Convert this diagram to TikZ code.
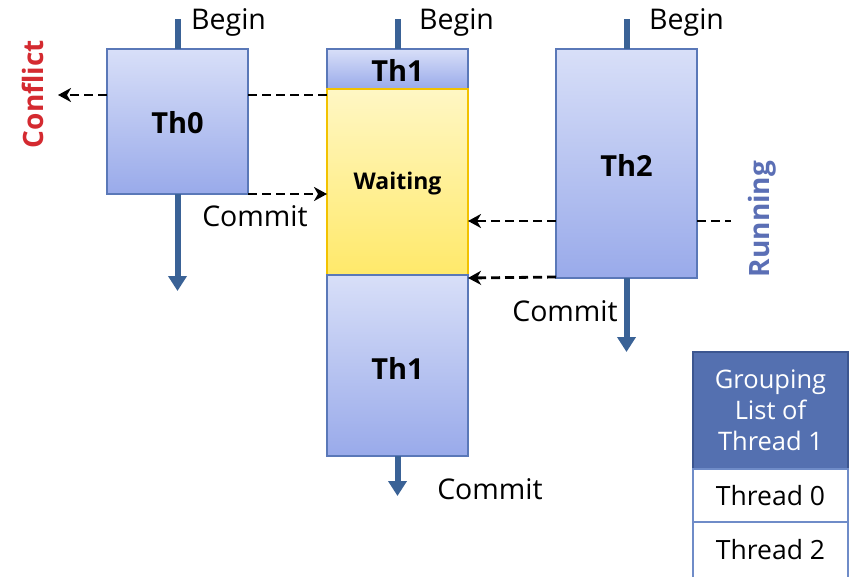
\documentclass[tikz,border=0pt]{standalone}
\usepackage{fontspec}
\setmainfont{Open Sans}
\usetikzlibrary{arrows.meta}
\definecolor{boxtop}{HTML}{D8DFF8}
\definecolor{boxbot}{HTML}{99AAEA}
\definecolor{boxedge}{HTML}{5A78B8}
\definecolor{waittop}{HTML}{FFF7C4}
\definecolor{waitbot}{HTML}{FFE96A}
\definecolor{waitedge}{HTML}{F2C200}
\definecolor{flow}{HTML}{3A6296}
\definecolor{conflictred}{HTML}{D42A30}
\definecolor{runblue}{HTML}{5B6FB5}
\definecolor{headfill}{HTML}{5470B0}
\definecolor{headedge}{HTML}{3C5690}
\definecolor{rowedge}{HTML}{6F8CC8}
\tikzset{
  thbox/.style={draw=boxedge, line width=2.5pt, top color=boxtop, bottom color=boxbot,
    inner sep=0pt, outer sep=0pt, anchor=north west},
  waitbox/.style={draw=waitedge, line width=2.5pt, top color=waittop, bottom color=waitbot,
    inner sep=0pt, outer sep=0pt, anchor=north west},
  thlabel/.style={font=\fontsize{29}{32}\selectfont\bfseries, inner sep=0pt},
  waitlabel/.style={font=\fontsize{23}{26}\selectfont\bfseries, inner sep=0pt},
  flowline/.style={draw=flow, line width=6pt},
  flowarrow/.style={flowline, -{Triangle[length=15pt,width=18pt]}},
  dashln/.style={draw=black, line width=2.8pt, dash pattern=on 9pt off 5pt},
  dasharrow/.style={dashln, -{Stealth[length=13pt,width=14pt,inset=4pt]}},
  plain/.style={font=\fontsize{28.5}{32}\selectfont, inner sep=0pt},
  headcell/.style={draw=headedge, line width=2.5pt, fill=headfill, text=white,
    inner sep=0pt, outer sep=0pt, anchor=north west, align=center, font=\fontsize{25.5}{31}\selectfont},
  rowcell/.style={draw=rowedge, line width=2.5pt, fill=white,
    inner sep=0pt, outer sep=0pt, anchor=north west},
  rowlabel/.style={font=\fontsize{26.5}{30}\selectfont, inner sep=0pt},
  sidelabel/.style={font=\fontsize{28}{30}\selectfont\bfseries, rotate=90, inner sep=0pt},
}
\begin{document}
\begin{tikzpicture}[x=1pt,y=-1pt]
\useasboundingbox (0,0) rectangle (850,576);

% thread boxes
\node[thbox, minimum width=141pt, minimum height=145pt] (th0) at (107,49) {};
\node[thbox, minimum width=141pt, minimum height=40pt] (th1a) at (327,49) {};
\node[waitbox, minimum width=141pt, minimum height=186pt] (wait) at (327,89) {};
\node[thbox, minimum width=141pt, minimum height=181pt] (th1b) at (327,275) {};
\node[thbox, minimum width=141pt, minimum height=229pt] (th2) at (556,49) {};

\node[thlabel] (th0t) at (177.5,123) {Th0};
\node[thlabel] (th1at) at (397.5,70) {Th1};
\node[waitlabel] (waitt) at (397.5,184) {Waiting};
\node[thlabel] (th1bt) at (397.5,368) {Th1};
\node[thlabel] (th2t) at (626.5,165) {Th2};

% begin / end lines
\coordinate (b0) at ([yshift=30pt]th0.north);
\coordinate (b1) at ([yshift=30pt]th1a.north);
\coordinate (b2) at ([yshift=30pt]th2.north);
\coordinate (e0) at ([yshift=-97pt]th0.south);
\coordinate (e1) at ([yshift=-40pt]th1b.south);
\coordinate (e2) at ([yshift=-74pt]th2.south);
\draw[flowline] (b0) -- (th0.north);
\draw[flowline] (b1) -- (th1a.north);
\draw[flowline] (b2) -- (th2.north);
\draw[flowarrow] (th0.south) -- (e0);
\draw[flowarrow] (th1b.south) -- (e1);
\draw[flowarrow] (th2.south) -- (e2);

\node[plain, anchor=west] (beg0) at (191,22) {Begin};
\node[plain, anchor=west] (beg1) at (419,22) {Begin};
\node[plain, anchor=west] (beg2) at (649,22) {Begin};
\node[plain] (com0) at (255,216) {Commit};
\node[plain] (com1) at (490,489) {Commit};
\node[plain] (com2) at (565,311) {Commit};

% conflict and dependency signals
\coordinate (cl) at (58,95);
\coordinate (rr) at (731,221);
\draw[dasharrow] (th0.west |- cl) -- (cl);
\draw[dashln] (th0.east |- cl) -- (wait.west |- cl);
\draw[dasharrow] (th0.south east) -- (wait.west |- th0.south east);
\draw[dasharrow] (th2.west |- rr) -- (wait.east |- rr);
\draw[dasharrow] ([yshift=1pt]th2.south west) -- (wait.east |- th2.south west);
\draw[dashln] (th2.east |- rr) -- (rr);

\node[sidelabel, text=conflictred] (conf) at (33,94) {Conflict};
\node[sidelabel, text=runblue] (run) at (762,219) {Running};

% grouping list
\node[headcell, minimum width=155pt, minimum height=117pt] (head) at (693,352) {Grouping\\List of\\Thread 1};
\node[rowcell, minimum width=155pt, minimum height=53pt] (row0) at (693,469) {};
\node[rowcell, minimum width=155pt, minimum height=60pt] (row2) at (693,522) {};
\node[rowlabel] (row0t) at (770.5,496) {Thread 0};
\node[rowlabel] (row2t) at (770.5,550) {Thread 2};
\end{tikzpicture}
\end{document}
